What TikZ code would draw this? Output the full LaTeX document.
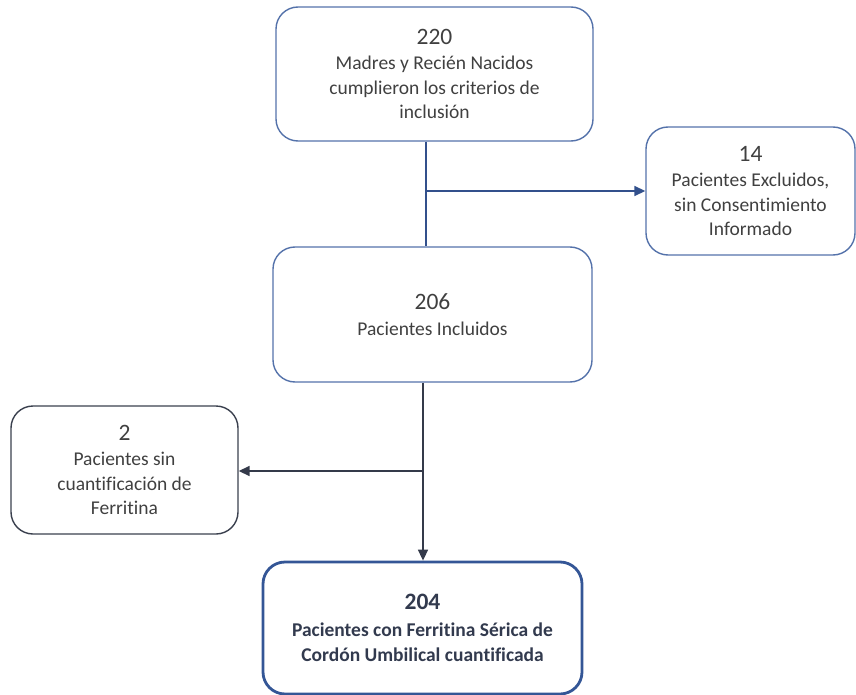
\documentclass[tikz,border=0pt]{standalone}
\usepackage{fontspec}
\setmainfont[Ligatures={NoCommon}]{Carlito}
\usetikzlibrary{arrows.meta}
\definecolor{boxblue}{RGB}{84,114,170}
\definecolor{boxdark}{RGB}{58,64,78}
\definecolor{boxstrong}{RGB}{52,86,150}
\definecolor{linkblue}{RGB}{50,80,140}
\definecolor{linkdark}{RGB}{52,58,74}
\definecolor{txt}{RGB}{64,64,64}
\definecolor{txtbold}{RGB}{50,58,78}
\newcommand\bignum[1]{{\fontsize{23.5}{26}\selectfont #1}}
\tikzset{
  flowbox/.style={draw=boxblue, line width=1.4pt, rounded corners=22pt,
    inner sep=0pt, align=center, text=txt,
    font=\fontsize{19.5}{24.5}\selectfont},
  darkbox/.style={flowbox, draw=boxdark},
  strongbox/.style={flowbox, draw=boxstrong, line width=2.8pt, text=txtbold,
    font=\bfseries\fontsize{19.5}{25}\selectfont},
  bluelink/.style={draw=linkblue, line width=1.6pt},
  darklink/.style={draw=linkdark, line width=1.6pt},
  tip/.style={-{Triangle[length=11pt,width=10pt]}}
}
\begin{document}
\begin{tikzpicture}[x=1pt,y=-1pt]
\useasboundingbox (0,0) rectangle (856,695);
\node[flowbox, minimum width=317pt, minimum height=134pt] (b1) at (434.5,74)
  {\bignum{220}\\[1pt] Madres y Recién Nacidos\\ cumplieron los criterios de\\ inclusión};
\node[flowbox, minimum width=209pt, minimum height=128pt] (b2) at (750.5,191)
  {\bignum{14}\\[1pt] Pacientes Excluidos,\\ sin Consentimiento\\ Informado};
\node[flowbox, minimum width=319pt, minimum height=135pt] (b3) at (432.5,314.5)
  {\bignum{206}\\[1pt] Pacientes Incluidos};
\node[darkbox, minimum width=227pt, minimum height=128pt] (b4) at (124.5,470)
  {\bignum{2}\\[1pt] Pacientes sin\\ cuantificación de\\ Ferritina};
\node[strongbox, minimum width=319pt, minimum height=132pt] (b5) at (422.5,628)
  {\bignum{204}\\[2pt] Pacientes con Ferritina Sérica de\\ Cordón Umbilical cuantificada};
\coordinate (j1) at (426,191);
\coordinate (j2) at (423,471);
\draw[bluelink] (j1 |- b1.south) -- (j1 |- b3.north);
\draw[bluelink, tip] (j1) -- (b2.west |- j1);
\draw[darklink, tip] (j2 |- b3.south) -- (j2 |- b5.north);
\draw[darklink, tip] (j2) -- (b4.east |- j2);
\end{tikzpicture}
\end{document}
